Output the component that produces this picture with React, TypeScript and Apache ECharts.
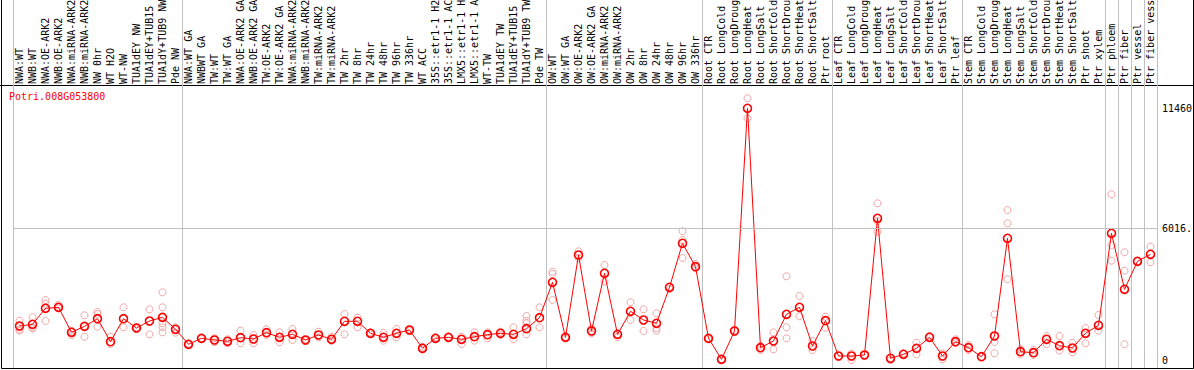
import React, { useEffect, useRef } from "react";
import * as echarts from "echarts";

const geneName = "Potri.008G053800";

// Group 1
const catsNW = ["NWA:WT", "NWB:WT", "NWA:OE-ARK2", "NWB:OE-ARK2", "NWA:miRNA-ARK2", "NWB:miRNA-ARK2", "NW 0hr", "WT H2O", "WT-NW", "TUA1dEY NW", "TUA1dEY+TUB15", "TUA1dY+TUB9 NW", "Pde NW"];
const meanNW = [1560, 1637, 2365, 2410, 1273, 1546, 1892, 846, 1892, 1469, 1787, 1956, 1410];
const repNW = [[1801, 1410, 1346], [1956, 1437, 1501], [2742, 2574, 1787], [2515, 2365], [1346, 1151], [2047, 1073, 1528], [2197, 2106, 1528], [1073, 741], [2410, 1501], [1501, 1437], [2319, 1182], [3093, 2410, 1937, 1683, 1501, 1273], [1501, 1255]];

// Group 2
const catsTW = ["NWA:WT GA", "NWBWT GA", "TW:WT", "TW:WT GA", "NWA:OE-ARK2 GA", "NWB:OE-ARK2 GA", "TW:OE-ARK2", "TW:OE-ARK2 GA", "NWA:miRNA-ARK2", "NWB:miRNA-ARK2", "TW:miRNA-ARK2", "TW:miRNA-ARK2", "TW 2hr", "TW 8hr", "TW 24hr", "TW 48hr", "TW 96hr", "TW 336hr", "WT ACC", "35S::etr1-1 H2", "35S::etr1-1 AC", "LMX5::etr1-1 H", "LMX5::etr1-1 A", "WT-TW", "TUA1dEY TW", "TUA1dEY+TUB15", "TUA1dY+TUB9 TW", "Pde TW"];
const meanTW = [728, 1001, 923, 864, 1028, 969, 1255, 1046, 1182, 923, 1151, 955, 1774, 1774, 1228, 1046, 1228, 1378, 546, 1001, 1046, 955, 1073, 1164, 1228, 1182, 1437, 1937];
const repTW = [[696, 760], [1001, 969], [1001, 819], [955, 773], [1346, 773], [1151, 773], [1410, 1151], [1273, 819], [1424, 923], [955, 878], [1301, 1046], [1073, 891], [2106, 1182], [1937, 1501], [1273, 1182], [1255, 891], [1424, 1046], [1410, 1333], [619, 500], [1046, 955], [1073, 1014], [1073, 741], [1273, 891], [1273, 1001], [1301, 1151], [1501, 955], [2015, 1801, 1683, 1182], [2410, 1501]];

// Group 3
const catsOW = ["OW:WT", "OW:WT GA", "OW:OE-ARK2", "OW:OE-ARK2 GA", "OW:miRNA-ARK2", "OW:miRNA-ARK2", "OW 2hr", "OW 8hr", "OW 24hr", "OW 48hr", "OW 96hr", "OW 336hr"];
const meanOW = [3547, 1046, 4789, 1333, 3957, 1182, 2228, 1833, 1683, 3320, 5321, 4257];
const repOW = [[4029, 3925, 2742], [1073, 1014], [4957, 4639], [1455, 1228], [4334, 3575], [1046], [2638, 1833], [2319, 1333], [2138, 1455, 1346], [3229], [5867, 5471, 4653], [4380, 4184]];

// Group 4
const catsRoot = ["Root CTR", "Root LongCold", "Root LongDroug", "Root LongHeat", "Root LongSalt", "Root ShortCold", "Root ShortDrou", "Root ShortHeat", "Root ShortSalt", "Ptr root"];
const meanRoot = [1001, 45, 1333, 11460, 573, 878, 2092, 2410, 650, 1801];
const repRoot = [[1001, 969], [45, 14], [1378], [11916, 11006], [650, 468], [1273, 500], [3820, 1501, 1001], [2924, 2001], [878, 468], [1983, 1483]];

// Group 5
const catsLeaf = ["Leaf CTR", "Leaf LongCold", "Leaf LongDroug", "Leaf LongHeat", "Leaf LongSalt", "Leaf ShortCold", "Leaf ShortDrou", "Leaf ShortHeat", "Leaf ShortSalt", "Ptr leaf"];
const meanLeaf = [196, 196, 241, 6458, 91, 273, 546, 1046, 196, 846];
const repLeaf = [[196], [318, 10], [241], [7140, 6335, 5849], [10], [318], [800, 273], [1105], [318, 45], [955, 773]];

// Group 6
const catsStem = ["Stem CTR", "Stem LongCold", "Stem LongDroug", "Stem LongHeat", "Stem LongSalt", "Stem ShortCold", "Stem ShortDrou", "Stem ShortHeat", "Stem ShortSalt", "Ptr shoot", "Ptr xylem"];
const meanStem = [573, 164, 1105, 5548, 391, 346, 955, 664, 559, 1228, 1592];
const repStem = [[696, 468], [164], [2092, 832, 318], [6835, 6231, 3684], [500, 287], [468, 241], [1105, 741], [1105, 437], [800, 364], [1469, 773], [2060, 1346]];

// Single-sample tissues
const catsPtr = ["Ptr phloem", "Ptr fiber", "Ptr vessel", "Ptr fiber vess"];
const meanPtr = [5776, 3229, 4502, 4821];
const repPtr = [[7550, 5244, 4530], [4912, 4075, 728], [4502], [5166, 4457]];

const yTickValues = [0, 6016, 11460];
const yTickLabels = ["0", "6016.", "11460"];

const groupSizes = [catsNW.length, catsTW.length, catsOW.length, catsRoot.length, catsLeaf.length, catsStem.length, 1, 1, 1, 1];

const FONT = '"DejaVu Sans Mono", monospace';

export default function App() {
  const ref = useRef<HTMLDivElement>(null);
  useEffect(() => {
    document.body.style.margin = "0";
    const categories = [...catsNW, ...catsTW, ...catsOW, ...catsRoot, ...catsLeaf, ...catsStem, ...catsPtr];
    const means = [...meanNW, ...meanTW, ...meanOW, ...meanRoot, ...meanLeaf, ...meanStem, ...meanPtr];
    const reps = [...repNW, ...repTW, ...repOW, ...repRoot, ...repLeaf, ...repStem, ...repPtr];
    const starts: number[] = [];
    let acc = 0;
    groupSizes.forEach((n) => { starts.push(acc); acc += n; });
    const repData: number[][] = [];
    reps.forEach((arr, i) => arr.forEach((v) => repData.push([i, v])));

    const chart = echarts.init(ref.current!, null, { renderer: "svg" });
    chart.setOption({
      animation: false,
      title: {
        text: geneName, left: 9, top: 91, padding: 0,
        textStyle: { color: "#ff0000", fontSize: 10, fontWeight: "normal", fontFamily: FONT },
      },
      grid: { left: 13, right: 37, top: 0, bottom: 2, containLabel: false, outerBoundsMode: "none" },
      xAxis: {
        type: "category", data: categories, position: "top", offset: -85, boundaryGap: true,
        axisLine: { show: false }, axisTick: { show: false },
        axisLabel: { interval: 0, rotate: 90, margin: 1, fontSize: 10, fontFamily: FONT, color: "#000" },
        splitLine: { show: true, interval: (i: number) => starts.includes(i), lineStyle: { color: "#c0c0c0", width: 1 } },
      },
      yAxis: { type: "value", min: -350, max: 16386, show: false },
      series: [
        {
          type: "scatter", data: repData, symbol: "circle", symbolSize: 7, z: 2, silent: true,
          itemStyle: { color: "rgba(0,0,0,0)", borderColor: "#ee9090", borderWidth: 1 },
        },
        {
          type: "line", data: means, symbol: "circle", symbolSize: 8, z: 3, silent: true,
          lineStyle: { color: "#ff0000", width: 1 },
          itemStyle: { color: "rgba(0,0,0,0)", borderColor: "#ff0000", borderWidth: 1.6 },
          markLine: {
            silent: true, symbol: "none", animation: false,
            label: { show: true, position: "end", distance: 5, color: "#000", fontSize: 10, fontFamily: FONT },
            data: yTickValues.map((v, i) => ({
              yAxis: v,
              lineStyle: { color: i === 1 ? "#c0c0c0" : "rgba(0,0,0,0)", width: 1, type: "solid" },
              label: { formatter: yTickLabels[i] },
            })),
          },
        },
      ],
      graphic: [
        { type: "rect", silent: true, shape: { x: 1.5, y: -5, width: 1192, height: 373.5 }, style: { fill: "none", stroke: "#000", lineWidth: 1 } },
        { type: "line", silent: true, shape: { x1: 0, y1: 85.5, x2: 1194, y2: 85.5 }, style: { stroke: "#000", lineWidth: 1 } },
      ],
    });
    return () => chart.dispose();
  }, []);
  return <div ref={ref} style={{ width: 1194, height: 370 }} />;
}
